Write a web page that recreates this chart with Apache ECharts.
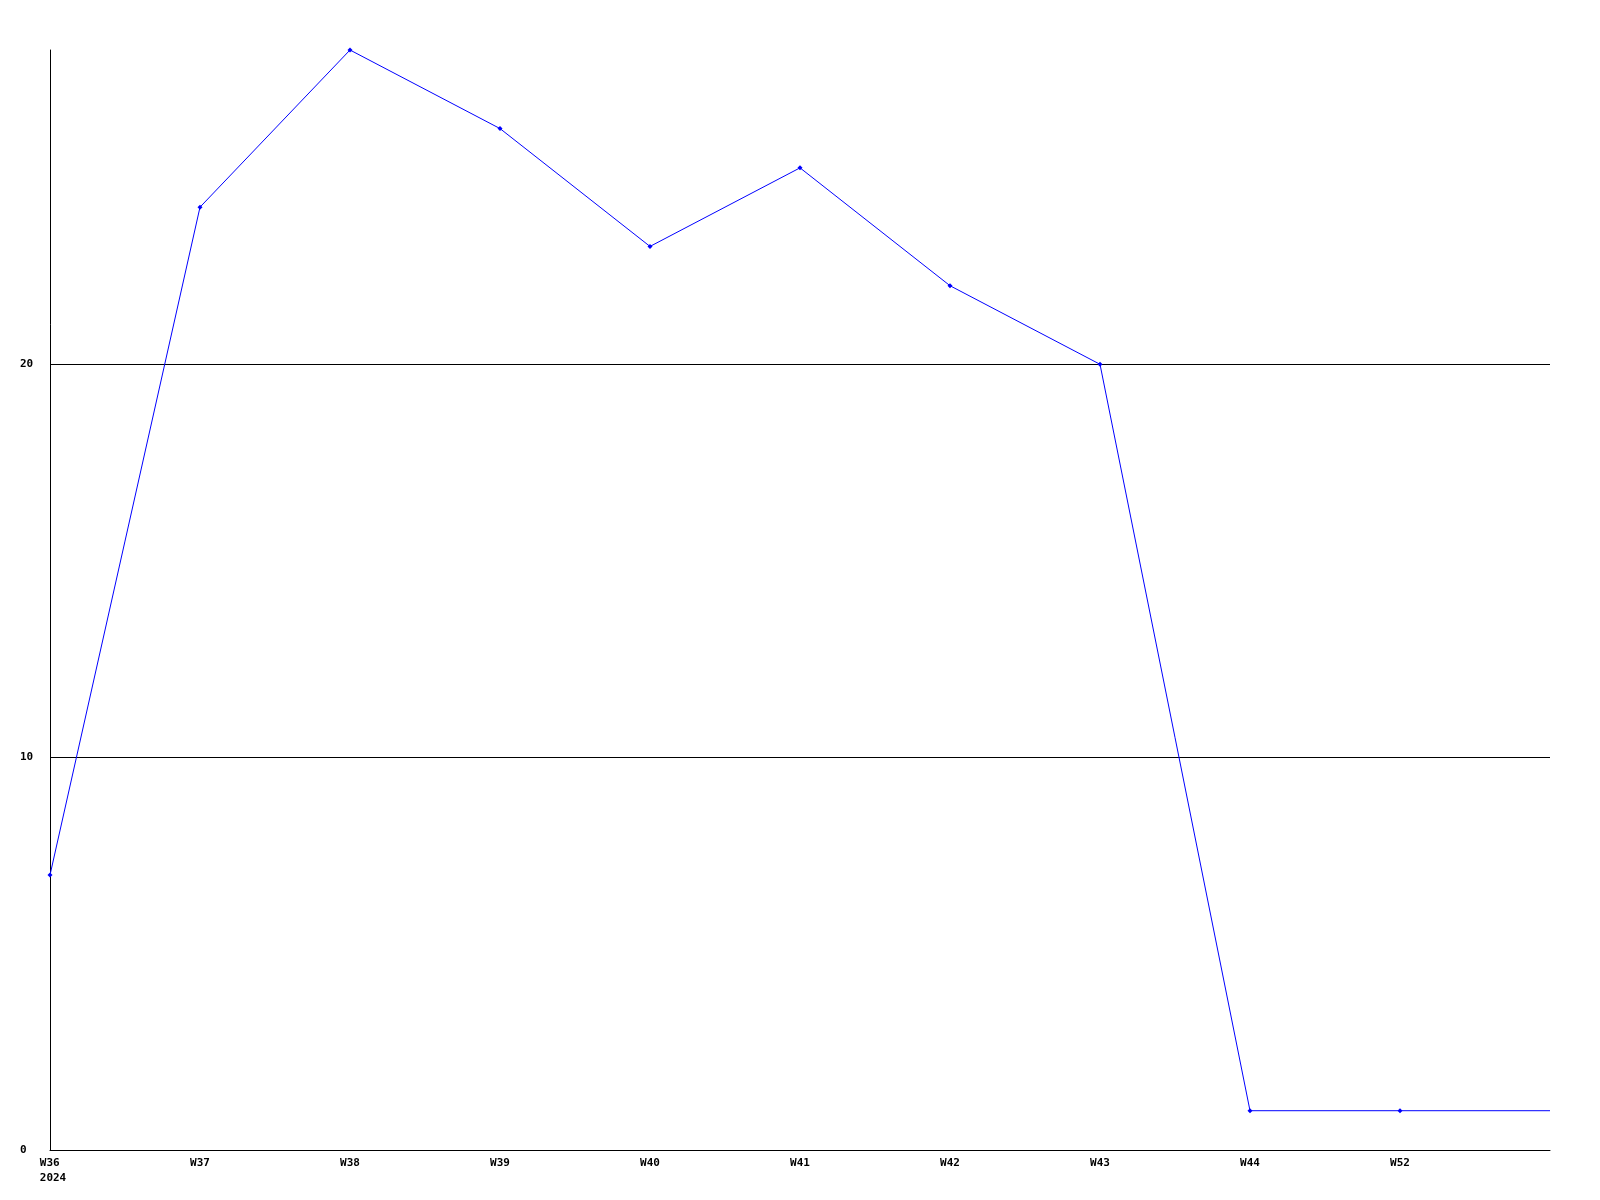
<!DOCTYPE html>
<html><head><meta charset="utf-8">
<script src="https://cdn.jsdelivr.net/npm/echarts@6/dist/echarts.min.js"></script>
<style>html,body{margin:0;padding:0;background:#fff}#c{width:1600px;height:1200px}</style>
</head><body><div id="c"></div>
<script>
const categories = ['W36\n2024','W37','W38','W39','W40','W41','W42','W43','W44','W52',''];
const values = [7,24,28,26,23,25,22,20,1,1,1];
const yTicks = [0,10,20];

const chart = echarts.init(document.getElementById('c'), null, {renderer:'canvas'});
const font = '"DejaVu Sans Mono", monospace';
chart.setOption({
  animation:false,
  backgroundColor:'#fff',
  grid:{left:50,right:50,top:50,bottom:50,containLabel:false},
  xAxis:{
    type:'category', data:categories, boundaryGap:false,
    axisLine:{lineStyle:{color:'#000',width:1}},
    axisTick:{show:false},
    splitLine:{show:false},
    axisLabel:{
      interval:0, margin:6, color:'#000', fontFamily:font, fontWeight:'bold', fontSize:11, lineHeight:15,
      formatter:function(v,i){ if(i===0){ const p=v.split('\n'); return '{f|'+p[0]+' }\n{f|'+p[1]+'}'; } return v; },
      rich:{f:{fontFamily:font,fontWeight:'bold',fontSize:11,lineHeight:15,color:'#000',padding:[0,0,0,6]}}
    }
  },
  yAxis:{
    type:'value', min:0, max:28, interval:10,
    axisLine:{show:true,lineStyle:{color:'#000',width:1}},
    axisTick:{show:false},
    splitLine:{show:true,lineStyle:{color:['#000','#000','#000','rgba(0,0,0,0)'],width:1}},
    axisLabel:{
      margin:30, align:'left', color:'#000', fontFamily:font, fontWeight:'bold', fontSize:11,
      showMaxLabel:false,
      formatter:function(v){ return yTicks.indexOf(v)>=0 ? String(v) : ''; }
    }
  },
  series:[{
    type:'line',
    data: values.map((v,i)=> i===values.length-1 ? {value:v, symbol:'none'} : v),
    symbol:'diamond', symbolSize:5, showSymbol:true,
    lineStyle:{color:'#0000ff',width:1},
    itemStyle:{color:'#0000ff'}
  }]
});
</script></body></html>
